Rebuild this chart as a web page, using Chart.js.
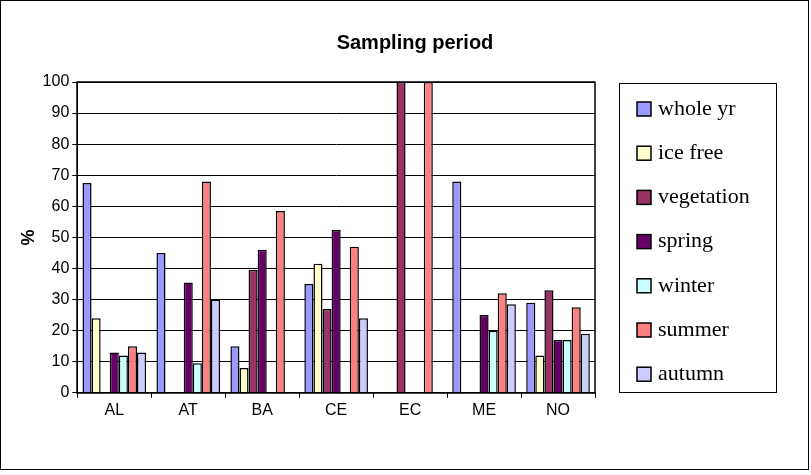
<!DOCTYPE html>
<html><head><meta charset="utf-8">
<script src="https://cdn.jsdelivr.net/npm/chart.js@4"></script>
<style>html,body{margin:0;background:#fff}#wrap{width:811px;height:475px;position:relative}</style>
</head><body><div id="wrap"><canvas id="c"></canvas></div>
<script>
"use strict";
const sites = ["AL", "AT", "BA", "CE", "EC", "ME", "NO"];
const periods = ["whole yr", "ice free", "vegetation", "spring", "winter", "summer", "autumn"];
const colors = ["#9999ff", "#ffffcc", "#993366", "#660066", "#ccffff", "#ff8080", "#ccccff"];
const wholeYr = [67.5, 45, 15, 35, 0, 68, 29];
const iceFree = [24, 0, 8, 41.5, 0, 0, 12];
const vegetation = [0, 0, 39.5, 27, 100, 0, 33];
const spring = [13, 35.5, 46, 52.5, 0, 25, 17];
const winter = [12, 9.5, 0, 0, 0, 20, 17];
const summer = [15, 68, 58.5, 47, 100, 32, 27.5];
const autumn = [13, 30, 0, 24, 0, 28.5, 19];
const series = [wholeYr, iceFree, vegetation, spring, winter, summer, autumn];
const chartTitle = "Sampling period";

// outer frame, title, plot frame and the boxed legend on the right
const frames = {
  id: "frames",
  afterDraw(ch) {
    const c = ch.ctx, a = ch.chartArea;
    c.save();
    c.strokeStyle = "#000"; c.lineWidth = 1;
    c.strokeRect(0.5, 0.5, 808, 469);
    c.fillStyle = "#000";
    c.font = "bold 20px 'Liberation Sans', Arial";
    c.textAlign = "center"; c.textBaseline = "middle";
    c.fillText(chartTitle, 415, 43);
    c.textAlign = "left";
    c.lineWidth = 1.5;
    c.strokeRect(Math.round(a.left), Math.round(a.top), Math.round(a.right - a.left), Math.round(a.bottom - a.top));
    c.lineWidth = 1;
    c.strokeRect(619.5, 83.5, 157, 309);
    c.font = "22px 'Liberation Serif', 'Times New Roman'";
    ch.data.datasets.forEach((ds, i) => {
      const y = 109 + i * 44.2;
      c.fillStyle = ds.backgroundColor;
      c.fillRect(637, y - 7, 14, 14);
      c.lineWidth = 1.5;
      c.strokeRect(637, y - 7, 14, 14);
      c.fillStyle = "#000";
      c.fillText(ds.label, 658, y);
    });
    c.restore();
  }
};

new Chart(document.getElementById("c"), {
  type: "bar",
  data: {
    labels: sites,
    datasets: series.map((d, i) => ({
      label: periods[i], data: d, backgroundColor: colors[i],
      borderColor: "#000", borderWidth: 1.5, borderSkipped: "bottom"
    }))
  },
  options: {
    responsive: true, maintainAspectRatio: false, animation: false,
    layout: { padding: { left: 18, right: 216, top: 82, bottom: 52 } },
    datasets: { bar: { categoryPercentage: 0.86, barPercentage: 1 } },
    plugins: {
      title: { display: false },
      legend: { display: false },
      tooltip: { enabled: false }
    },
    scales: {
      x: { grid: { offset: true, drawOnChartArea: false, color: "#000", tickLength: 5 }, border: { color: "#000" },
        ticks: { color: "#000", font: { family: "Liberation Sans, Arial", size: 16 } } },
      y: { min: 0, max: 100, ticks: { stepSize: 10, color: "#000", font: { family: "Liberation Sans, Arial", size: 16 } },
        grid: { color: "#000", tickLength: 5 }, border: { color: "#000" },
        title: { display: true, text: "%", color: "#000", font: { family: "Liberation Sans, Arial", size: 18, weight: "bold" }, padding: 0 } }
    }
  },
  plugins: [frames]
});
</script></body></html>
